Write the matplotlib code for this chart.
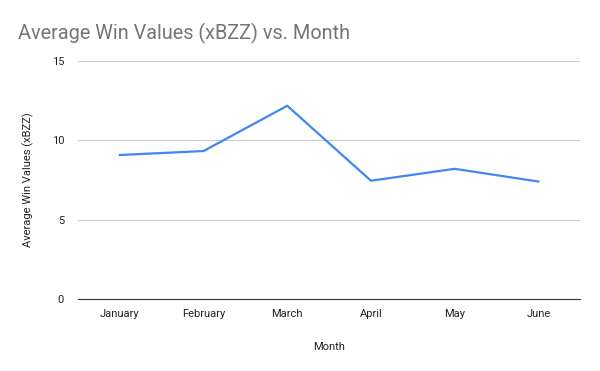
import matplotlib.pyplot as plt

months = ["January", "February", "March", "April", "May", "June"]
avg_win = [9.07, 9.32, 12.17, 7.45, 8.2, 7.4]
y_ticks = [0, 5, 10, 15]

plt.rcParams['font.family'] = ['Roboto', 'DejaVu Sans']

fig = plt.figure(figsize=(6, 3.71), dpi=100)
ax = fig.add_axes([0.13, 0.194, 0.837, 0.642])

ax.plot(range(len(months)), avg_win, color="#4285F4", linewidth=1.6)

ax.set_xlim(-0.5, len(months) - 0.5)
ax.set_ylim(0, 15)
ax.set_xticks(range(len(months)))
ax.set_xticklabels(months)
ax.set_yticks(y_ticks)
ax.grid(axis="y", color="#cccccc", linewidth=0.8)
ax.set_axisbelow(True)
for s in ["top", "right", "left"]:
    ax.spines[s].set_visible(False)
ax.spines["bottom"].set_color("#333333")
ax.tick_params(axis="both", length=0, labelsize=8, colors="#222222", pad=7)
ax.tick_params(axis="y", pad=10)

ax.set_xlabel("Month", fontsize=8, color="#222222", labelpad=17)
ax.set_ylabel("Average Win Values (xBZZ)", fontsize=8, color="#222222", labelpad=13)

fig.text(0.03, 0.91, "Average Win Values (xBZZ) vs. Month", fontsize=14.3,
         color="#757575", va="center", ha="left")

fig.savefig("out.png", dpi=100)
